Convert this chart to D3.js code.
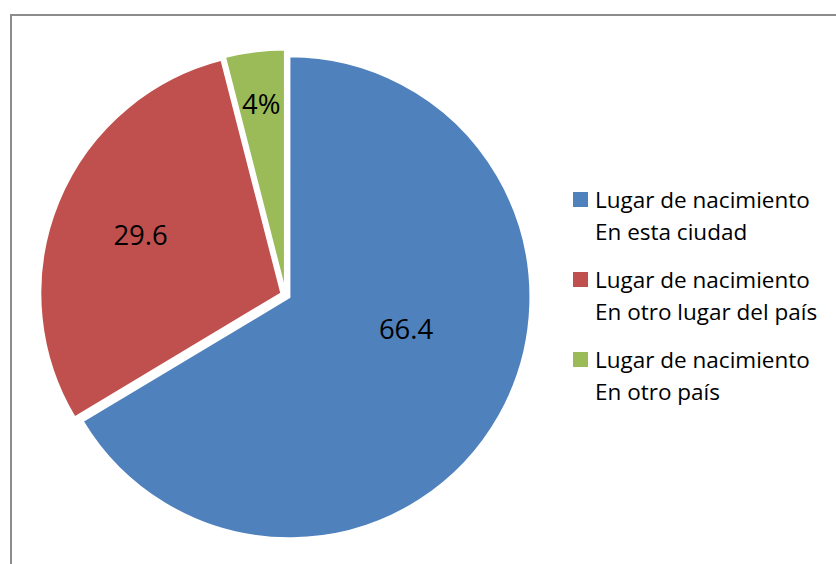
<!DOCTYPE html>
<html>
<head>
<meta charset="utf-8">
<script src="https://cdn.jsdelivr.net/npm/d3@7"></script>
<style>
  html, body { margin: 0; padding: 0; background: #fff; }
  svg { display: block; }
</style>
</head>
<body>
<svg id="chart" width="836" height="564"></svg>
<script>
const categories = [
  "Lugar de nacimiento\nEn esta ciudad",
  "Lugar de nacimiento\nEn otro lugar del país",
  "Lugar de nacimiento\nEn otro país"
];
const values = [66.4, 29.6, 4];
const labels = ["66.4", "29.6", "4%"];
const colors = ["#4F81BD", "#C0504D", "#9BBB59"];

const svg = d3.select("#chart");
const W = 836, H = 564;

// chart area border
svg.append("rect")
  .attr("x", 11).attr("y", 15)
  .attr("width", W + 20).attr("height", H + 20)
  .attr("fill", "none")
  .attr("stroke", "#8c8c8c")
  .attr("stroke-width", 2);

const cx = 285.5, cy = 295, R = 241, explode = 4.5;

const pie = d3.pie().sort(null).value(d => d);
const arcs = pie(values);
const arc = d3.arc().innerRadius(0).outerRadius(R);

const g = svg.append("g").attr("transform", `translate(${cx},${cy})`);

g.selectAll("path.slice")
  .data(arcs)
  .join("path")
  .attr("class", "slice")
  .attr("d", arc)
  .attr("fill", (d, i) => colors[i])
  .attr("stroke", "#fff")
  .attr("stroke-width", 2)
  .attr("stroke-linejoin", "miter")
  .attr("transform", d => {
    const a = (d.startAngle + d.endAngle) / 2;
    return `translate(${explode * Math.sin(a)},${-explode * Math.cos(a)})`;
  });

// label placement (radius fraction, angle shift in radians)
const labelPlace = [[0.52, -0.24], [0.65, 0], [0.8, 0]];
g.selectAll("text.lbl")
  .data(arcs)
  .join("text")
  .attr("class", "lbl")
  .attr("x", (d, i) => {
    const a = (d.startAngle + d.endAngle) / 2 + labelPlace[i][1];
    return R * labelPlace[i][0] * Math.sin(a);
  })
  .attr("y", (d, i) => {
    const a = (d.startAngle + d.endAngle) / 2 + labelPlace[i][1];
    return -R * labelPlace[i][0] * Math.cos(a);
  })
  .attr("dy", "0.36em")
  .attr("text-anchor", "middle")
  .attr("font-family", "'Open Sans', sans-serif")
  .attr("font-size", 27.5)
  .attr("fill", "#000")
  .text((d, i) => labels[i]);

// legend
const legend = svg.append("g").attr("transform", "translate(573,192)");
const items = legend.selectAll("g.item")
  .data(categories)
  .join("g")
  .attr("class", "item")
  .attr("transform", (d, i) => `translate(0,${i * 80})`);

items.append("rect")
  .attr("x", 0).attr("y", 0)
  .attr("width", 15).attr("height", 15)
  .attr("fill", (d, i) => colors[i]);

items.each(function(d) {
  const lines = d.split("\n");
  const t = d3.select(this).append("text")
    .attr("font-family", "'Open Sans', sans-serif")
    .attr("font-size", 22.5)
    .attr("fill", "#000");
  lines.forEach((ln, j) => {
    t.append("tspan").attr("x", 22).attr("y", 15.5 + j * 32).text(ln);
  });
});
</script>
</body>
</html>
